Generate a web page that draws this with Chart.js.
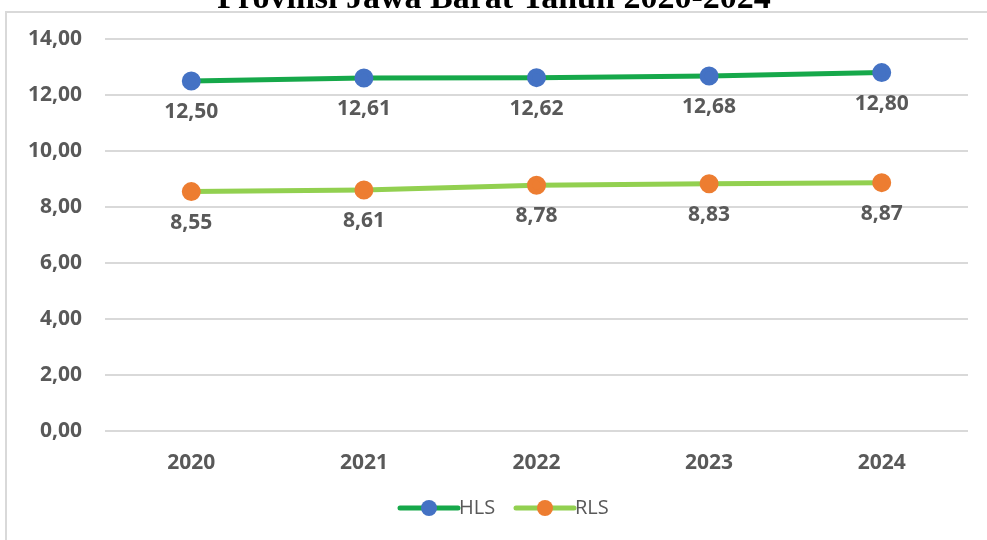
<!DOCTYPE html>
<html>
<head>
<meta charset="utf-8">
<script src="https://cdn.jsdelivr.net/npm/chart.js@4.4.1/dist/chart.umd.min.js"></script>
<style>
  html, body { margin: 0; padding: 0; background: #fff; }
  #chart { display: block; }
</style>
</head>
<body>
<canvas id="chart" width="987" height="540"></canvas>
<script>
// Data
const years = ['2020', '2021', '2022', '2023', '2024'];
const hls = [12.50, 12.61, 12.62, 12.68, 12.80];
const rls = [8.55, 8.61, 8.78, 8.83, 8.87];
const yTicks = [0, 2, 4, 6, 8, 10, 12, 14];
const chartTitle = 'Provinsi Jawa Barat Tahun 2020-2024';

const fmt = v => v.toFixed(2).replace('.', ',');
const textGray = '#595959';
const boldFont = 'bold 21px "Open Sans"';

// bingkai + judul (terpotong di atas)
const framePlugin = {
    id: 'frame',
    beforeDraw(chart) {
        const c = chart.ctx;
        c.save();
        c.fillStyle = '#fff';
        c.fillRect(0, 0, chart.width, chart.height);
        c.strokeStyle = '#d9d9d9';
        c.lineWidth = 2;
        c.beginPath();
        c.moveTo(6, chart.height);
        c.lineTo(6, 12);
        c.lineTo(chart.width, 12);
        c.stroke();
        c.fillStyle = '#000';
        c.font = 'bold 34px "Liberation Serif"';
        c.textAlign = 'center';
        c.textBaseline = 'alphabetic';
        c.fillText(chartTitle, 494, 8);
        c.restore();
    }
};

// label nilai di bawah titik
const labelPlugin = {
    id: 'valueLabels',
    afterDatasetsDraw(chart) {
        const c = chart.ctx;
        c.save();
        c.font = boldFont;
        c.fillStyle = textGray;
        c.textAlign = 'center';
        c.textBaseline = 'middle';
        chart.data.datasets.forEach((ds, i) => {
            chart.getDatasetMeta(i).data.forEach((pt, j) => {
                c.fillText(fmt(ds.data[j]), pt.x, pt.y + 31);
            });
        });
        c.restore();
    }
};

// legenda garis + titik
const legendPlugin = {
    id: 'lineLegend',
    afterDraw(chart) {
        const c = chart.ctx;
        const items = [
            { x: 400, ds: chart.data.datasets[0] },
            { x: 516, ds: chart.data.datasets[1] }
        ];
        const y = 508;
        c.save();
        items.forEach(it => {
            c.strokeStyle = it.ds.borderColor;
            c.lineWidth = 5;
            c.lineCap = 'round';
            c.beginPath();
            c.moveTo(it.x, y);
            c.lineTo(it.x + 58, y);
            c.stroke();
            c.fillStyle = it.ds.pointBackgroundColor;
            c.beginPath();
            c.arc(it.x + 29, y, 8, 0, Math.PI * 2);
            c.fill();
            c.fillStyle = textGray;
            c.font = '20px "Open Sans"';
            c.textAlign = 'left';
            c.textBaseline = 'middle';
            c.fillText(it.ds.label, it.x + 59, y);
        });
        c.restore();
    }
};

new Chart(document.getElementById('chart'), {
    type: 'line',
    data: {
        labels: years,
        datasets: [{
            label: 'HLS',
            data: hls,
            borderColor: '#16a84a',
            backgroundColor: '#16a84a',
            pointBackgroundColor: '#4472c4',
            pointBorderColor: '#4472c4',
            borderWidth: 5,
            pointRadius: 7,
            tension: 0
        }, {
            label: 'RLS',
            data: rls,
            borderColor: '#92d050',
            backgroundColor: '#92d050',
            pointBackgroundColor: '#ed7d31',
            pointBorderColor: '#ed7d31',
            borderWidth: 5,
            pointRadius: 7,
            tension: 0
        }]
    },
    options: {
        responsive: false,
        animation: false,
        layout: { padding: { top: 39, right: 19, left: 0, bottom: 0 } },
        plugins: {
            legend: { display: false },
            title: { display: false },
            tooltip: { enabled: false }
        },
        scales: {
            x: {
                offset: true,
                grid: { display: false },
                border: { display: false },
                ticks: { color: textGray, font: { family: 'Open Sans', size: 21, weight: 'bold' }, padding: 11 },
                afterFit(scale) { scale.height = 109; }
            },
            y: {
                min: 0,
                max: 14,
                afterBuildTicks(scale) { scale.ticks = yTicks.map(v => ({ value: v })); },
                grid: { color: '#d9d9d9', lineWidth: 2, drawTicks: false },
                border: { display: false },
                ticks: {
                    color: textGray,
                    font: { family: 'Open Sans', size: 21, weight: 'bold' },
                    padding: 23,
                    callback: v => fmt(v)
                },
                afterFit(scale) { scale.width = 105; }
            }
        }
    },
    plugins: [framePlugin, labelPlugin, legendPlugin]
});
</script>
</body>
</html>
